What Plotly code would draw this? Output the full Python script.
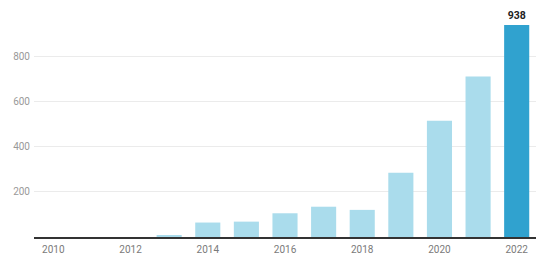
import plotly.graph_objects as go

years = [2010, 2011, 2012, 2013, 2014, 2015, 2016, 2017, 2018, 2019, 2020, 2021, 2022]
values = [0, 0, 0, 7, 64, 68, 105, 134, 120, 284, 514, 710, 938]
y_ticks = [200, 400, 600, 800]
x_ticks = [2010, 2012, 2014, 2016, 2018, 2020, 2022]

light = "#aadcec"
dark = "#30a2cf"
colors = [dark if y == years[-1] else light for y in years]
texts = [str(v) if y == years[-1] else "" for y, v in zip(years, values)]

fig = go.Figure(go.Bar(
    x=years, y=values, marker=dict(color=colors, line=dict(width=0)),
    width=0.65, text=texts, textposition="outside",
    textfont=dict(family="Roboto", size=10.5, color="#222222", weight="bold"),
    cliponaxis=False,
))
fig.update_layout(
    width=548, height=263,
    margin=dict(l=34, r=12, t=11, b=26),
    plot_bgcolor="white", paper_bgcolor="white",
    font=dict(family="Roboto", size=10, color="#888888"),
    showlegend=False,
)
fig.update_xaxes(range=[2009.5, 2022.5], tickvals=x_ticks, showgrid=False,
                 showline=True, linecolor="#333333", linewidth=1.5,
                 ticks="", zeroline=False, ticklabelstandoff=2,
                 automargin=False, tickfont=dict(color="#7a7a7a"))
fig.update_yaxes(range=[0, 1000], tickvals=y_ticks, showgrid=True,
                 gridcolor="#ebebeb", gridwidth=1, zeroline=False, ticks="",
                 showline=False, ticklabelstandoff=3, automargin=False,
                 tickfont=dict(color="#999999"))
fig.write_html("out.html")
